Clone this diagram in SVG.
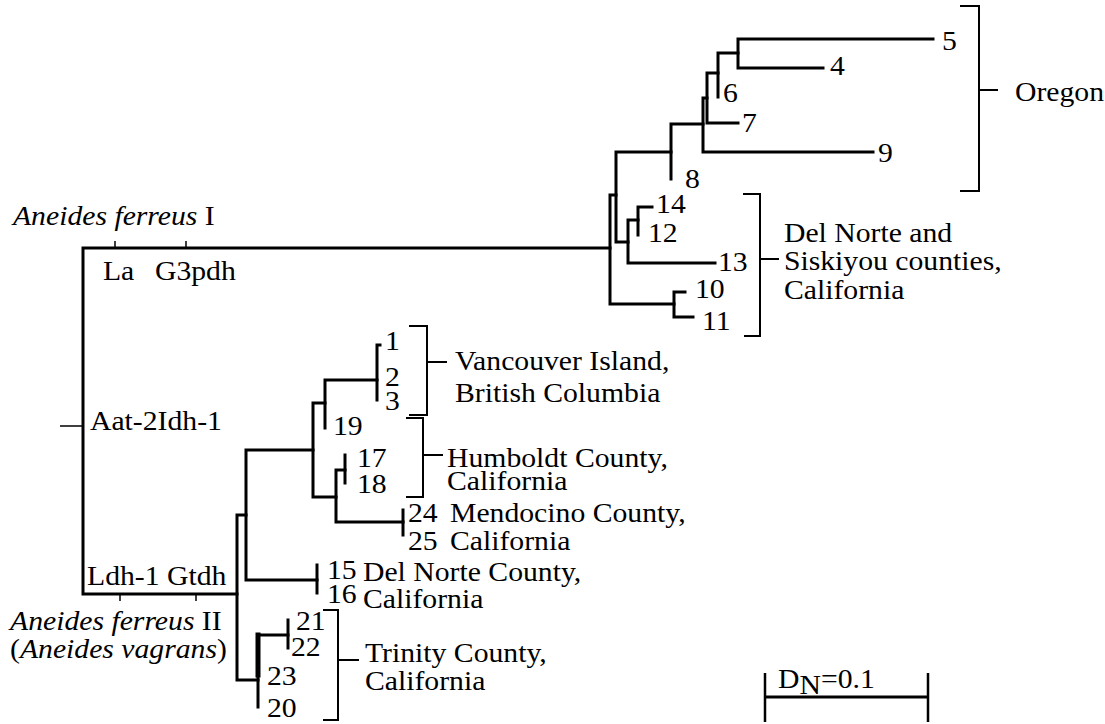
<svg xmlns="http://www.w3.org/2000/svg" width="1105" height="724" viewBox="0 0 1105 724">
<style>
.t{font-family:"Liberation Serif","Times New Roman",serif;font-size:27px;fill:#000}
.i{font-style:italic}
.br{fill:none;stroke:#000;stroke-width:2;stroke-linecap:square}
.tk{fill:none;stroke:#000;stroke-width:1.5}
.e{fill:none;stroke:#000;stroke-width:3;stroke-linecap:square;stroke-linejoin:miter}
</style>
<rect width="1105" height="724" fill="#fff"/>
<g id="connectors">
<!-- root -->
<path class="e" d="M610,248 H83 V594 H237"/>
<path class="tk" d="M115,241 V248 M186,241 V248 M60,426 H83 M120,594 V601 M196,594 V601"/>
<!-- ferreus I clade -->
<path class="e" d="M616,195 H610 V304 H674"/>
<path class="e" d="M671,152 H616 V242 H628"/>
<path class="e" d="M703,124 H671 V179"/>
<path class="e" d="M873,152 H703 V98 H707"/>
<path class="e" d="M718,73 H707 V123 H738"/>
<path class="e" d="M738,53 H718 V97"/>
<path class="e" d="M933,39 H738 V68 H823"/>
<path class="e" d="M638,220 H628 V263 H715"/>
<path class="e" d="M652,207 H638 V235"/>
<path class="e" d="M685,292 H674 V317 H693"/>
<!-- ferreus II clade -->
<path class="e" d="M246,515 H237 V680 H258"/>
<path class="e" d="M313,450 H246 V580 H317"/>
<path class="e" d="M325,403 H313 V497 H336"/>
<path class="e" d="M377,380 H325 V428 M325,380 V403"/>
<path class="e" d="M380,345 H377 V400"/>
<path class="e" d="M345,470 H336 V522 H403"/>
<path class="e" d="M345,455 V483"/>
<path class="e" d="M403,510 V535"/>
<path class="e" d="M317,565 V593"/>
<path class="e" d="M288,635 H258 V707"/>
<path class="e" d="M258,635 V675" style="stroke-width:5"/>
<path class="e" d="M288,620 V648"/>
</g>
<g id="brackets">
<path class="br" d="M961,6 H979 V191 H961 M979,90 H997"/>
<path class="br" d="M744,194 H760 V336 H745 M760,259 H778"/>
<path class="br" d="M410,326 H427 V415 H410 M427,362 H446"/>
<path class="br" d="M407,418 H423 V497 H407 M423,455 H442"/>
<path class="br" d="M324,610 H338 V720 H324 M338,660 H358"/>
</g>
<g id="scalebar">
<path class="e" d="M765,697 H928" style="stroke-linecap:butt"/>
<path class="e" d="M765,673 V722 M928,673 V722" style="stroke-width:2.5;stroke-linecap:butt"/>
</g>
<g id="labels" transform="scale(1.1,1)">
<text class="t" x="11.8" y="225"><tspan class="i">Aneides ferreus</tspan> I</text>
<text class="t" x="93.6" y="280">La</text>
<text class="t" x="140.9" y="280">G3pdh</text>
<text class="t" x="81.8" y="430">Aat-2Idh-1</text>
<text class="t" x="79.1" y="585">Ldh-1 Gtdh</text>
<text class="t" x="9.1" y="630"><tspan class="i">Aneides ferreus</tspan> II</text>
<text class="t" x="9.1" y="658">(<tspan class="i">Aneides vagrans</tspan>)</text>
<g id="oregon">
<text class="t" x="856.4" y="50">5</text>
<text class="t" x="754.5" y="75">4</text>
<text class="t" x="657.3" y="102">6</text>
<text class="t" x="674.5" y="132">7</text>
<text class="t" x="798.2" y="162">9</text>
<text class="t" x="622.7" y="188">8</text>
<text class="t" x="922.7" y="101">Oregon</text>
</g>
<g id="delnorte-siskiyou">
<text class="t" x="596.4" y="213">14</text>
<text class="t" x="589.1" y="242">12</text>
<text class="t" x="652.7" y="271">13</text>
<text class="t" x="631.8" y="298">10</text>
<text class="t" x="638.2" y="330">11</text>
<text class="t" x="712.7" y="242">Del Norte and</text>
<text class="t" x="712.7" y="270">Siskiyou counties,</text>
<text class="t" x="712.7" y="299">California</text>
</g>
<g id="vancouver">
<text class="t" x="350" y="350">1</text>
<text class="t" x="350" y="386">2</text>
<text class="t" x="350" y="410">3</text>
<text class="t" x="413.6" y="370">Vancouver Island,</text>
<text class="t" x="413.6" y="402">British Columbia</text>
<text class="t" x="302.7" y="435">19</text>
</g>
<g id="humboldt">
<text class="t" x="324.5" y="467">17</text>
<text class="t" x="324.5" y="493">18</text>
<text class="t" x="406.4" y="467">Humboldt County,</text>
<text class="t" x="406.4" y="490">California</text>
</g>
<g id="mendocino">
<text class="t" x="370.9" y="522">24</text>
<text class="t" x="409.1" y="522">Mendocino County,</text>
<text class="t" x="370.9" y="550">25</text>
<text class="t" x="409.1" y="550">California</text>
</g>
<g id="delnorte-county">
<text class="t" x="297.3" y="579">15</text>
<text class="t" x="330" y="581">Del Norte County,</text>
<text class="t" x="297.3" y="603">16</text>
<text class="t" x="330" y="608">California</text>
</g>
<g id="trinity">
<text class="t" x="269.1" y="630">21</text>
<text class="t" x="264.5" y="656">22</text>
<text class="t" x="242.7" y="685">23</text>
<text class="t" x="242.7" y="717">20</text>
<text class="t" x="331.8" y="662">Trinity County,</text>
<text class="t" x="331.8" y="690">California</text>
</g>
<text class="t" x="707.3" y="688">D<tspan dy="6">N</tspan><tspan dy="-6">=0.1</tspan></text>
</g>
</svg>
